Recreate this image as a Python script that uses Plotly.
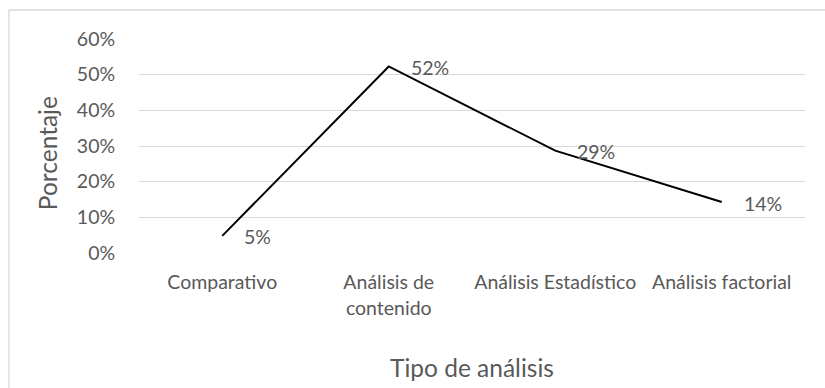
import plotly.graph_objects as go

categories = ["Comparativo", "Análisis de<br>contenido", "Análisis Estadístico", "Análisis factorial"]
values = [0.048, 0.523, 0.287, 0.143]
y_ticks = [0, 0.1, 0.2, 0.3, 0.4, 0.5, 0.6]
y_ticktext = ["0%", "10%", "20%", "30%", "40%", "50%", "60%"]

FONT = "Lato"
GRAY = "#595959"
TICK_SIZE = 19.5
TITLE_SIZE = 24.5

fig = go.Figure()
fig.add_trace(go.Scatter(
    x=categories, y=values, mode="lines",
    line=dict(color="#000000", width=2),
    hoverinfo="skip", showlegend=False,
))

for c, v in zip(categories, values):
    fig.add_annotation(
        x=c, y=v, xref="x", yref="y",
        text=f"{round(v * 100):.0f}%", showarrow=False,
        xanchor="left", yanchor="middle", xshift=20, yshift=-1,
        font=dict(family=FONT, size=TICK_SIZE, color=GRAY),
    )

fig.add_annotation(
    x=0.5, y=-0.537, xref="paper", yref="paper",
    text="Tipo de análisis", showarrow=False,
    xanchor="center", yanchor="middle",
    font=dict(family=FONT, size=TITLE_SIZE, color=GRAY),
)
fig.add_annotation(
    x=-0.138, y=0.467, xref="paper", yref="paper",
    text="Porcentaje", showarrow=False, textangle=-90,
    xanchor="center", yanchor="middle",
    font=dict(family=FONT, size=TITLE_SIZE, color=GRAY),
)

fig.add_shape(
    type="rect", xref="paper", yref="paper",
    x0=-0.1952, x1=1.05, y0=-0.7, y1=1.1355,
    line=dict(color="#d9d9d9", width=1.3), fillcolor="rgba(0,0,0,0)",
    layer="below",
)

fig.update_layout(
    width=825, height=388,
    margin=dict(l=139, r=20, t=39, b=135),
    paper_bgcolor="white", plot_bgcolor="white",
    font=dict(family=FONT, color=GRAY, size=TICK_SIZE),
    xaxis=dict(
        type="category", showgrid=False, zeroline=False, showline=False,
        ticks="outside", ticklen=12, tickcolor="rgba(0,0,0,0)",
        tickfont=dict(family=FONT, size=TICK_SIZE, color=GRAY),
        range=[-0.5, 3.5],
    ),
    yaxis=dict(
        range=[0, 0.6], tickvals=y_ticks, ticktext=y_ticktext,
        showgrid=True, gridcolor="#d9d9d9", gridwidth=1.3,
        zeroline=False, showline=False,
        ticks="outside", ticklen=19, tickcolor="rgba(0,0,0,0)",
        tickfont=dict(family=FONT, size=TICK_SIZE, color=GRAY),
    ),
)

fig.write_html("out.html")
